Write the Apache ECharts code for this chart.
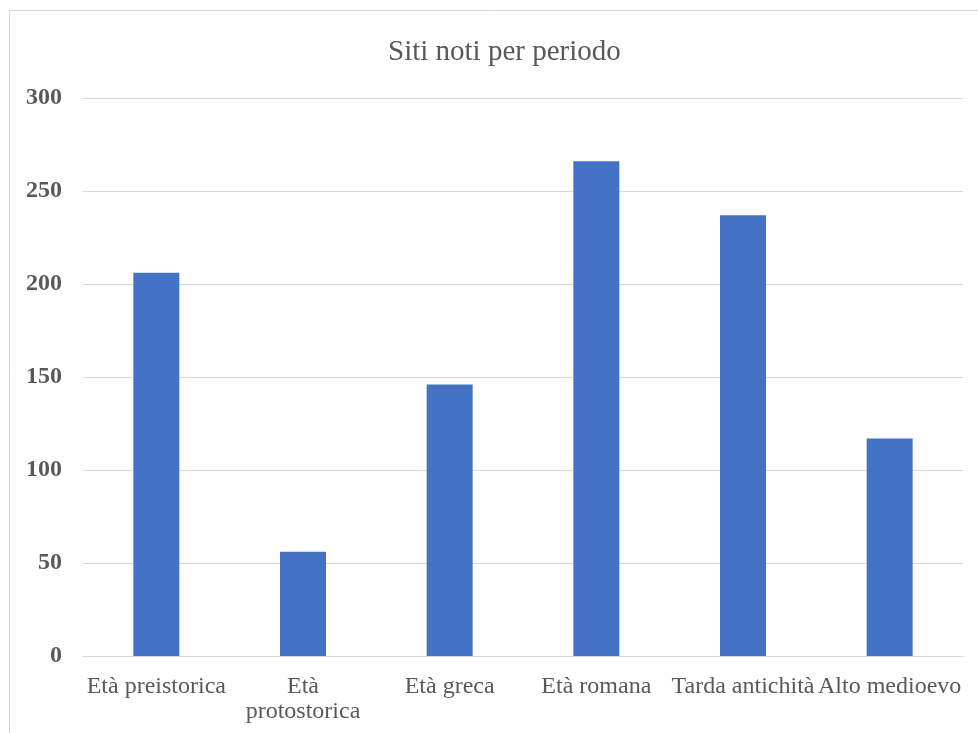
<!DOCTYPE html>
<html>
<head>
<meta charset="utf-8">
<script src="https://cdn.jsdelivr.net/npm/echarts@6/dist/echarts.min.js"></script>
<style>
html,body{margin:0;padding:0;background:#fff;}
#chart{width:978px;height:733px;}
</style>
</head>
<body>
<div id="chart"></div>
<script>
const titleText = "Siti noti per periodo";
const categories = ["Età preistorica", "Età protostorica", "Età greca", "Età romana", "Tarda antichità", "Alto medioevo"];
const values = [206, 56, 146, 266, 237, 117];
const yTicks = { min: 0, max: 300, interval: 50 };
const wrappedLabels = { "Età protostorica": "Età\nprotostorica" };

const chart = echarts.init(document.getElementById('chart'), null, { renderer: 'canvas' });
const serif = '"Liberation Serif", "Times New Roman", serif';
chart.setOption({
  animation: false,
  backgroundColor: '#ffffff',
  title: {
    text: titleText,
    left: 383,
    top: 33,
    textStyle: { fontFamily: serif, fontSize: 29, fontWeight: 'normal', color: '#595959' }
  },
  graphic: [{
    type: 'rect',
    shape: { x: 9.5, y: 10.5, width: 1000, height: 800 },
    style: { fill: 'none', stroke: '#d9d9d9', lineWidth: 1 },
    silent: true
  }],
  grid: { left: 83, right: 15, top: 98, bottom: 77, containLabel: false },
  xAxis: {
    type: 'category',
    data: categories,
    axisLine: { show: true, lineStyle: { color: '#d9d9d9', width: 1 } },
    axisTick: { show: false },
    axisLabel: {
      interval: 0,
      margin: 18,
      fontFamily: serif,
      fontSize: 24,
      color: '#595959',
      lineHeight: 25,
      formatter: v => wrappedLabels[v] || v
    }
  },
  yAxis: {
    type: 'value',
    min: yTicks.min,
    max: yTicks.max,
    interval: yTicks.interval,
    axisLine: { show: false },
    axisTick: { show: false },
    splitLine: { lineStyle: { color: '#d9d9d9', width: 1 } },
    axisLabel: {
      margin: 21,
      fontFamily: serif,
      fontSize: 24,
      fontWeight: 'bold',
      color: '#595959'
    }
  },
  series: [{
    type: 'bar',
    data: values,
    barWidth: 46,
    itemStyle: { color: '#4472C4' }
  }]
});
</script>
</body>
</html>
